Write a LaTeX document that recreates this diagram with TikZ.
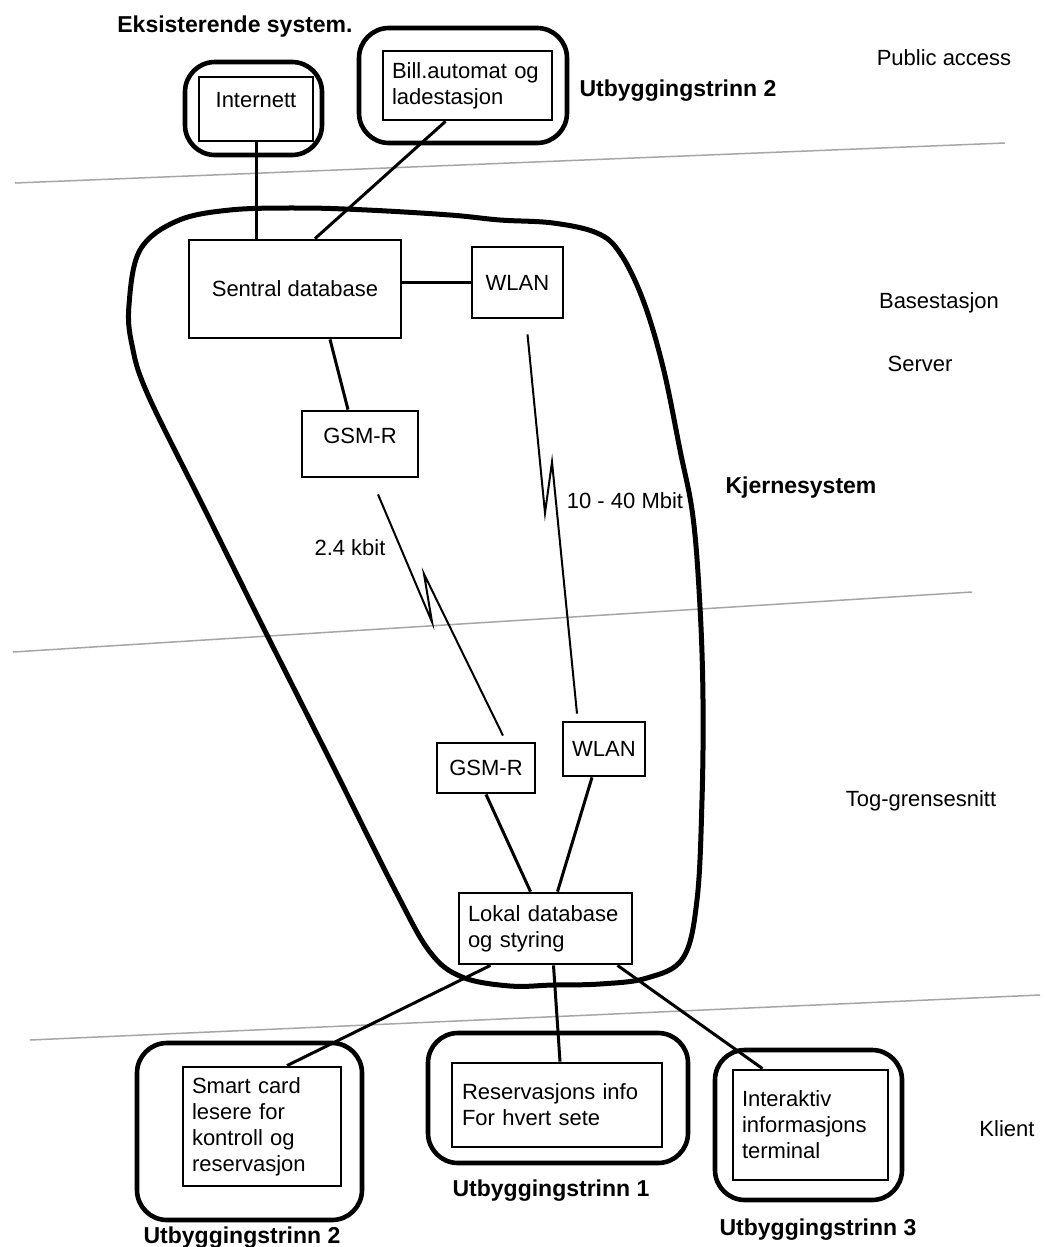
\documentclass[tikz,border=0pt]{standalone}
\usepackage{fontspec}
\setmainfont{Liberation Sans}
\usetikzlibrary{positioning,calc}

\begin{document}
\begin{tikzpicture}[x=1pt,y=-1pt,
  every node/.style={font=\fontsize{22}{26}\selectfont},
  box/.style={draw,line width=2.8pt,inner sep=0pt,align=center},
  txtbox/.style={draw,line width=2.8pt,inner xsep=9pt,inner ysep=0pt,align=left},
  ring/.style={line width=4.6pt,rounded corners=30pt},
  blob/.style={line width=5pt},
  link/.style={line width=3pt},
  radio/.style={line width=2pt},
  layer/.style={gray!70,line width=1.5pt},
  lbl/.style={anchor=base},
  blbl/.style={anchor=base,font=\fontsize{23}{27}\selectfont\bfseries}]
\path[use as bounding box,fill=white] (0,0) rectangle (1044,1247);

\draw[layer] (15,183) -- (1005,143);
\draw[layer] (13,652) -- (972,592);
\draw[layer] (30,1040) -- (1040,995);

\draw[blob] plot[smooth cycle,tension=0.6] coordinates {
  (129,305) (140,250) (177,221) (230,210) (300,208) (367,210) (450,215)
  (500,220) (553,223) (597,233) (620,253) (643,300) (663,367) (680,450)
  (693,517) (700,607) (703,700) (702,800) (697,900) (683,958) (647,978)
  (600,984) (553,985) (510,986) (462,977) (430,952) (395,890) (330,760)
  (262,625) (205,510) (148,395) (132,345)};

\draw[ring] (185,62) rectangle (322,155);
\draw[ring] (359,28) rectangle (567,143);
\draw[ring] (137,1043) rectangle (362,1220);
\draw[ring] (428,1033) rectangle (688,1163);
\draw[ring] (715,1050) rectangle (902,1200);

\node[box,minimum width=114pt,text height=30pt,text depth=34pt] (internett) at (256,109) {Internett};
\node[txtbox,text width=151pt,minimum height=69pt] (bill) at (467.5,85.5) {Bill.automat og\\ladestasjon};
\node[box,minimum width=212pt,minimum height=98pt] (sentral) at (295,289) {Sentral database};
\node[box,minimum width=91pt,minimum height=71pt] (wlanA) at (517.5,282.5) {WLAN};
\node[box,minimum width=116pt,text height=32pt,text depth=34pt] (gsmA) at (360,444) {GSM-R};
\node[box,minimum width=98pt,minimum height=50pt] (gsmB) at (486,768) {GSM-R};
\node[box,minimum width=82pt,minimum height=54pt] (wlanB) at (604,749) {WLAN};
\node[txtbox,text width=155pt,minimum height=71pt] (lokal) at (545.5,928.5) {Lokal database\\og styring};
\node[txtbox,text width=140pt,minimum height=119pt] (smart) at (262,1126.5) {Smart card\\lesere for\\kontroll og\\reservasjon};
\node[txtbox,text width=190pt,inner xsep=10pt,minimum height=84pt] (reserv) at (557,1105) {Reservasjons info\\For hvert sete};
\node[txtbox,text width=137pt,minimum height=110pt] (interakt) at (810.5,1125) {Interaktiv\\informasjons\\terminal};

\draw[link] (internett.south) -- (internett.south |- sentral.north);
\draw[link] ([xshift=-22pt]bill.south) -- ([xshift=20pt]sentral.north);
\draw[link] (sentral.east |- wlanA.west) -- (wlanA.west);
\draw[link] ([xshift=35pt]sentral.south) -- ([xshift=-12pt]gsmA.north);

\coordinate (gsmZa) at (432,622);
\coordinate (gsmZb) at (424,574);
\draw[radio] ([xshift=18pt,yshift=-16pt]gsmA.south) -- (gsmZa) -- (gsmZb) -- ([xshift=17pt,yshift=6pt]gsmB.north);
\coordinate (wlanZa) at (545,513);
\coordinate (wlanZb) at (552,462);
\draw[radio] ([xshift=10pt,yshift=-15pt]wlanA.south) -- (wlanZa) -- (wlanZb) -- ([xshift=-27pt,yshift=7pt]wlanB.north);

\draw[link] (gsmB.south) -- ([xshift=-15pt]lokal.north);
\draw[link] ([xshift=-12pt]wlanB.south) -- ([xshift=12pt]lokal.north);
\draw[link] ([xshift=-55pt]lokal.south) -- ([xshift=25pt]smart.north);
\draw[link] ([xshift=8pt]lokal.south) -- ([xshift=3pt]reserv.north);
\draw[link] ([xshift=72pt]lokal.south) -- ([xshift=-48pt]interakt.north);

\node[blbl] (title) at (235,33) {Eksisterende system.};
\node[blbl] (stageTop) at (678,96) {Utbyggingstrinn 2};
\node[lbl] (public) at (944,66) {Public access};
\node[lbl] (base) at (939,308) {Basestasjon};
\node[lbl] (server) at (920,371) {Server};
\node[blbl] (kjerne) at (801,493) {Kjernesystem};
\node[lbl] (mbit) at (625,508) {10 - 40 Mbit};
\node[lbl] (kbit) at (350,555) {2.4 kbit};
\node[lbl] (tog) at (921,806) {Tog-grensesnitt};
\node[lbl] (klient) at (1007,1136) {Klient};
\node[blbl] (stageTwo) at (242,1243) {Utbyggingstrinn 2};
\node[blbl] (stageOne) at (551,1196) {Utbyggingstrinn 1};
\node[blbl] (stageThree) at (818,1235) {Utbyggingstrinn 3};
\end{tikzpicture}
\end{document}
